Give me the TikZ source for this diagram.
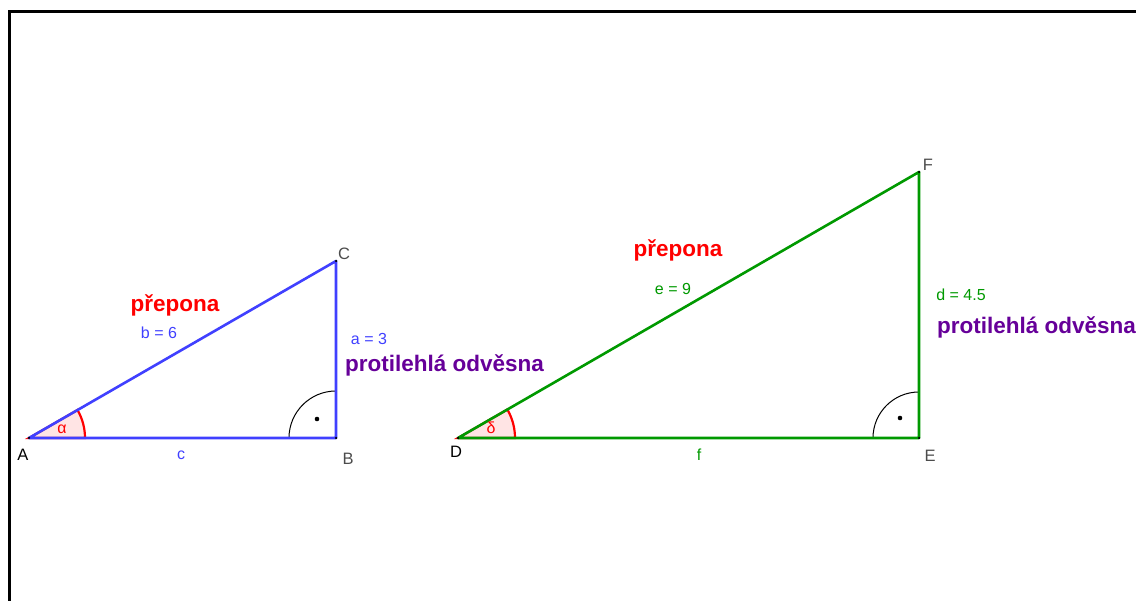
\documentclass[tikz,border=0pt]{standalone}
\usepackage{fontspec}
\setmainfont{Liberation Sans}
\definecolor{ggblue}{RGB}{64,64,255}
\definecolor{gggreen}{RGB}{0,153,0}
\definecolor{ggpurple}{RGB}{102,0,153}
\definecolor{ggpink}{RGB}{255,228,228}
\begin{document}
\begin{tikzpicture}[x=1pt, y=-1pt,
  side/.style={line width=2.6pt, line join=round},
  pointlabel/.style={text=black!70, font=\fontsize{16.5}{19}\selectfont, inner sep=0pt},
  sidelabel/.style={font=\fontsize{16}{19}\selectfont, inner sep=0pt},
  tag/.style={font=\fontsize{22.5}{26}\selectfont\bfseries, inner sep=0pt},
  anglearc/.style={draw=red, fill=ggpink, line width=2.2pt},
  rightarc/.style={draw=black, line width=1pt},
  vertex/.style={circle, fill=black, inner sep=0pt, minimum size=3pt}
]
  \useasboundingbox (0,0) rectangle (1136,601);
  \draw[line width=2.4pt] (9.5,601) -- (9.5,11.5) -- (1136,11.5);

  % triangle ABC
  \coordinate (A) at (29,438);
  \coordinate (B) at (336,438);
  \coordinate (C) at (336,261);
  \filldraw[anglearc] (A) -- ++(56,0) arc[start angle=0, end angle=-30, radius=56] -- cycle;
  \draw[rightarc] (B) ++(-47,0) arc[start angle=180, end angle=270, radius=47];
  \fill (B) ++(-19,-19) circle (2.3);
  \draw[side, ggblue] (A) -- (B) -- (C) -- cycle;
  \foreach \p in {A,B,C} \node[vertex, minimum size=2.5pt] (dot\p) at (\p) {};

  \node[pointlabel, text=black] (lblA) at (23,455) {A};
  \node[pointlabel] (lblB) at (348,459) {B};
  \node[pointlabel] (lblC) at (344,254) {C};
  \node[sidelabel, text=red] (alpha) at (62,429) {α};
  \node[sidelabel, text=ggblue] (sidec) at (181,455) {c};
  \node[sidelabel, text=ggblue] (sideb) at (159,333) {b = 6};
  \node[sidelabel, text=ggblue] (sidea) at (369,339) {a = 3};
  \node[tag, text=red] (hypABC) at (175,305) {přepona};
  \node[tag, text=ggpurple, anchor=west] (oppABC) at (345,365) {protilehlá odvěsna};

  % triangle DEF
  \coordinate (D) at (458,438);
  \coordinate (E) at (919,438);
  \coordinate (F) at (919,172);
  \filldraw[anglearc] (D) -- ++(57,0) arc[start angle=0, end angle=-30, radius=57] -- cycle;
  \draw[rightarc] (E) ++(-46,0) arc[start angle=180, end angle=270, radius=46];
  \fill (E) ++(-19,-20) circle (2.3);
  \draw[side, gggreen] (D) -- (E) -- (F) -- cycle;
  \foreach \p in {D,E,F} \node[vertex, minimum size=2.5pt] (dot\p) at (\p) {};

  \node[pointlabel, text=black] (lblD) at (456,452) {D};
  \node[pointlabel] (lblE) at (930,456) {E};
  \node[pointlabel] (lblF) at (928,165) {F};
  \node[sidelabel, text=red] (delta) at (491,428) {δ};
  \node[sidelabel, text=gggreen] (sidef) at (699,455) {f};
  \node[sidelabel, text=gggreen] (sidee) at (673,289) {e = 9};
  \node[sidelabel, text=gggreen] (sided) at (961,295) {d = 4.5};
  \node[tag, text=red] (hypDEF) at (678,250) {přepona};
  \node[tag, text=ggpurple, anchor=west] (oppDEF) at (937,327) {protilehlá odvěsna};
\end{tikzpicture}
\end{document}
